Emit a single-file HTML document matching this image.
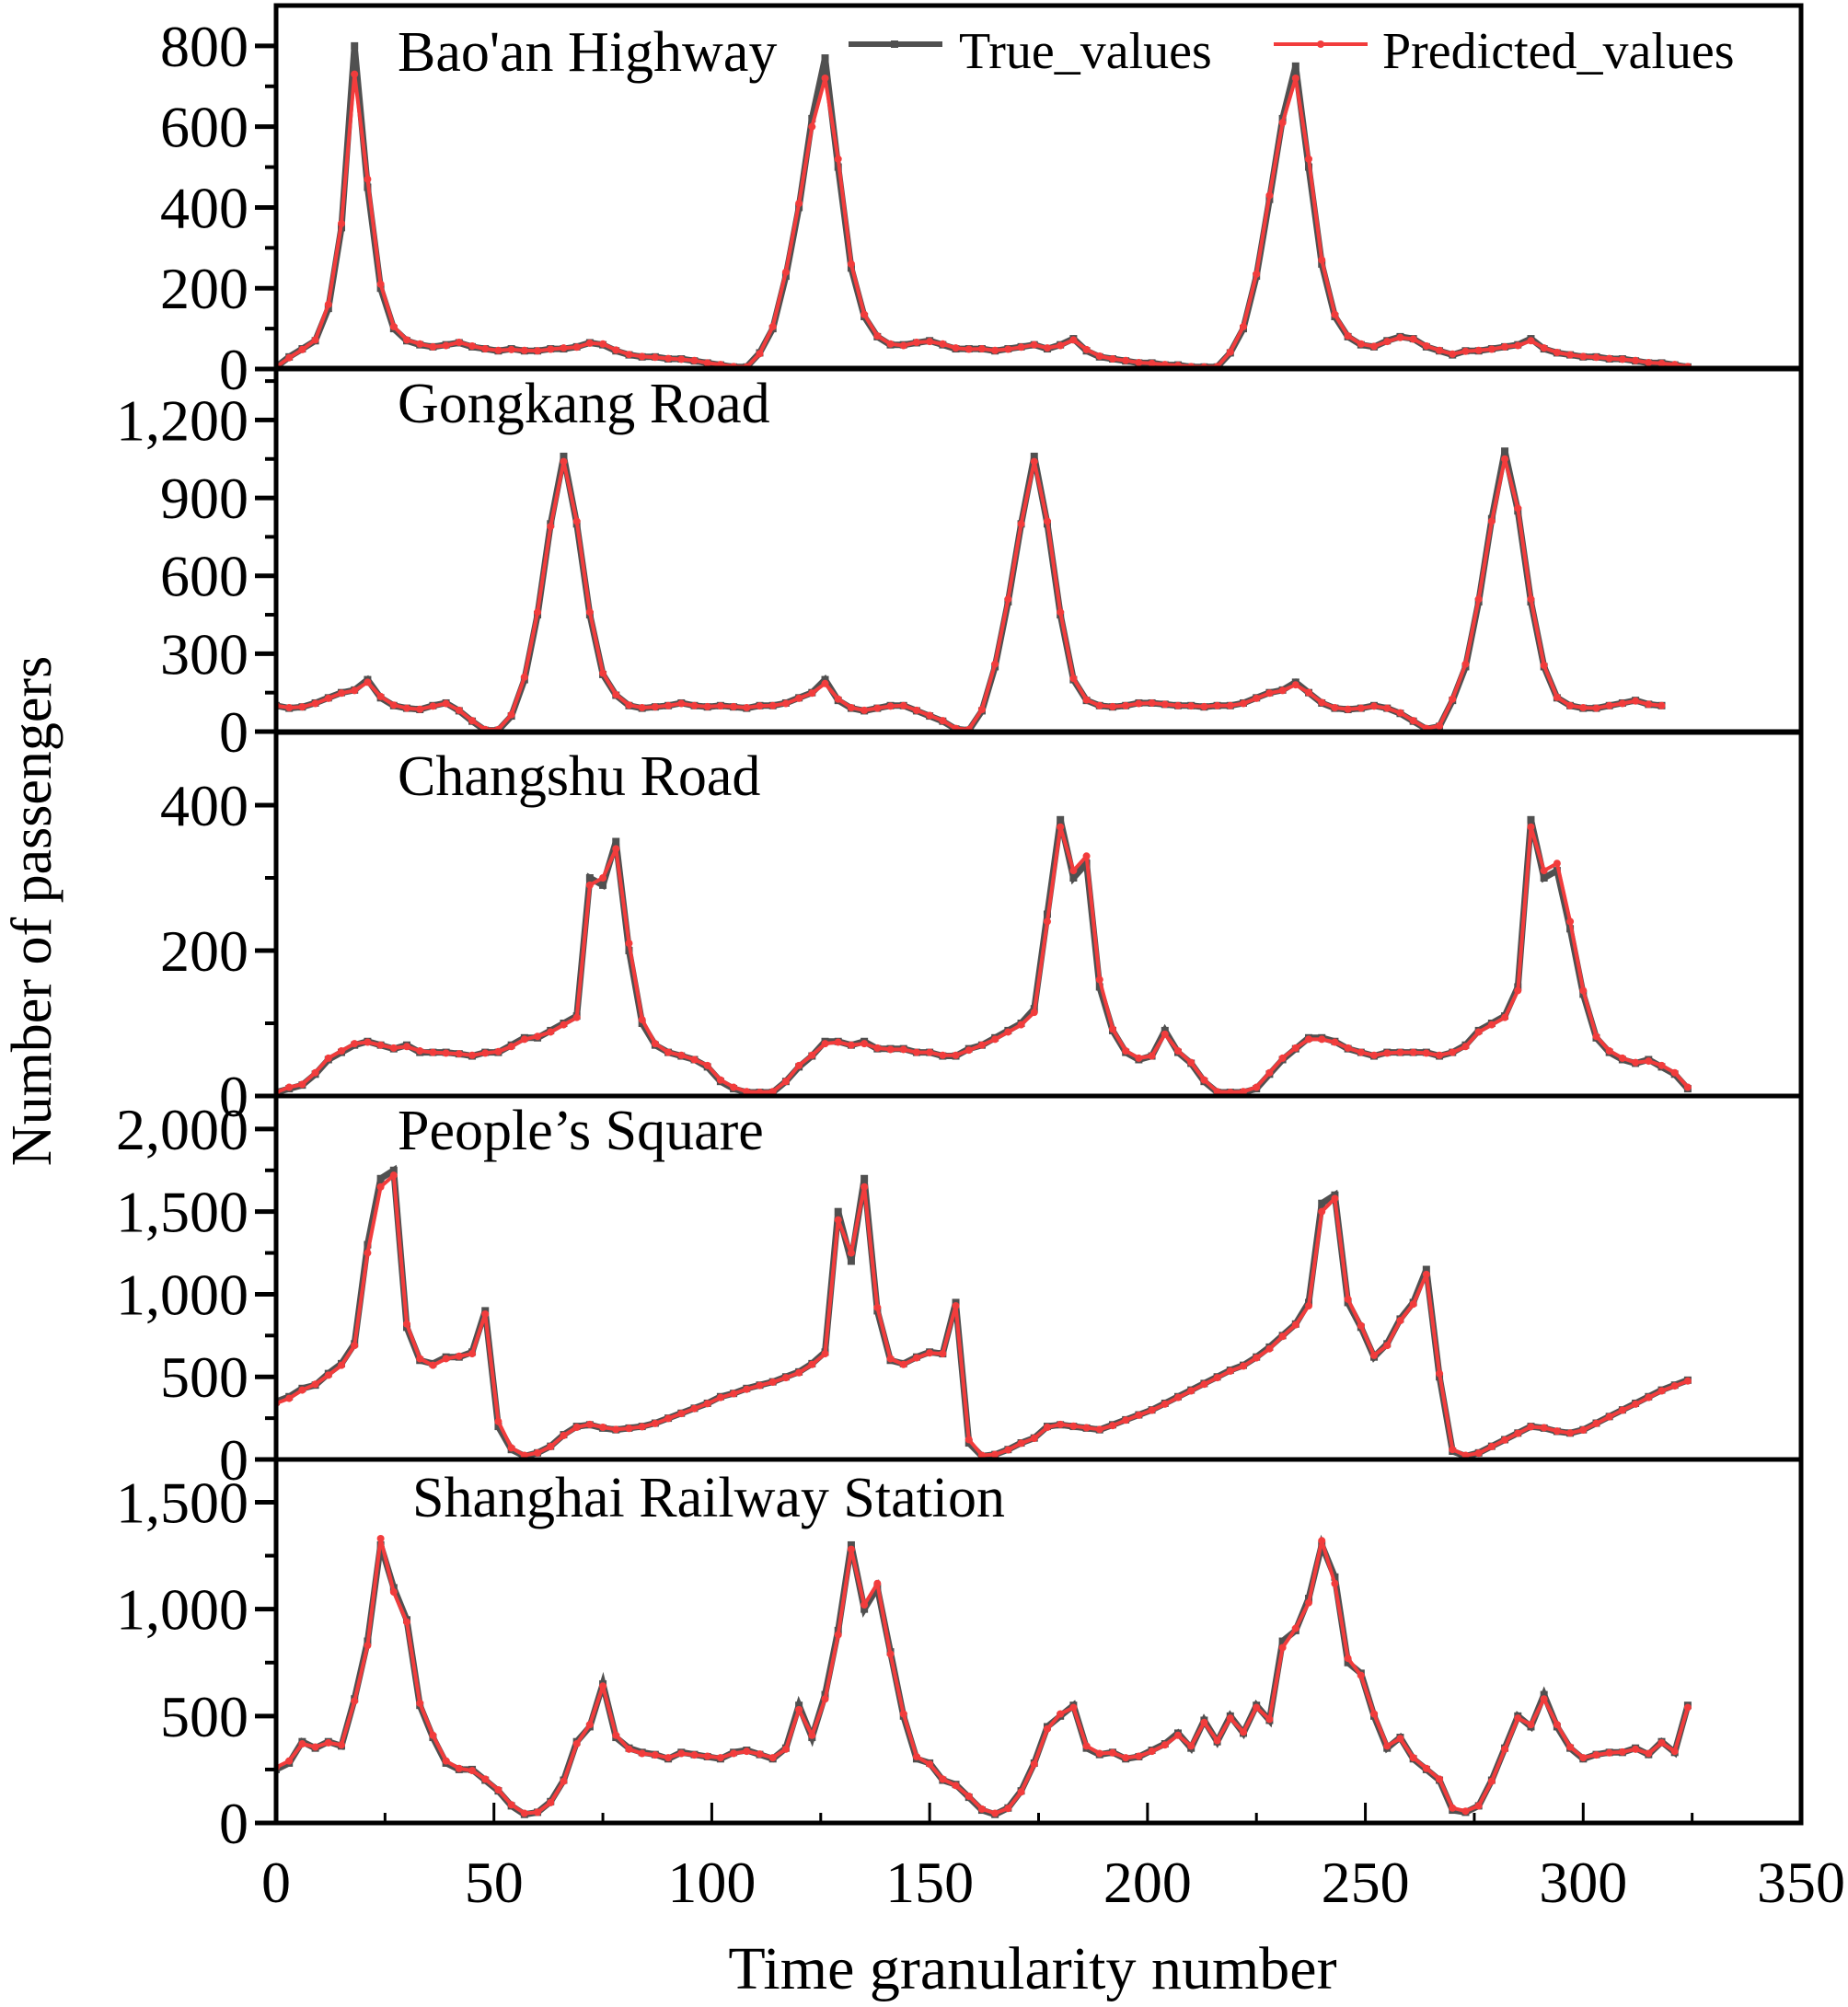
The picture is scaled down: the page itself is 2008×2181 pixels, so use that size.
<!DOCTYPE html>
<html><head><meta charset="utf-8">
<style>
html,body{margin:0;padding:0;background:#fff;}
svg{display:block;font-family:"Liberation Serif",serif;}
</style></head>
<body>
<svg id="chart" width="2008" height="2181" viewBox="0 0 2008 2181" xmlns="http://www.w3.org/2000/svg">
<g id="marks"></g>
<g id="axes"></g>
<text x="1122" y="2161" font-size="66" text-anchor="middle">Time granularity number</text>
<text transform="translate(55,990) rotate(-90)" font-size="62" text-anchor="middle">Number of passengers</text>
<g>
<line x1="922" y1="48" x2="1024" y2="48" stroke="#505050" stroke-width="6"/>
<rect x="968" y="44" width="8" height="8" fill="#505050"/>
<text x="1042" y="74" font-size="56">True_values</text>
<line x1="1384" y1="48" x2="1486" y2="48" stroke="#f23c3c" stroke-width="4"/>
<circle cx="1435" cy="48" r="4" fill="#f23c3c"/>
<text x="1502" y="74" font-size="56">Predicted_values</text>
</g>
</svg>
<script>
const xStep = 3;
const xTicks = [0,50,100,150,200,250,300,350];
const stations = ["Bao'an Highway","Gongkang Road","Changshu Road","People\u2019s Square","Shanghai Railway Station"];
const yMaxs = [900,1400,500,2200,1700];
const yTicks1 = [0,200,400,600,800];
const yTicks2 = [0,300,600,900,1200];
const yTicks3 = [0,200,400];
const yTicks4 = [0,500,1000,1500,2000];
const yTicks5 = [0,500,1000,1500];
const yMinor1 = [100,300,500,700];
const yMinor2 = [150,450,750,1050,1350];
const yMinor3 = [100,300];
const yMinor4 = [250,750,1250,1750];
const yMinor5 = [250,750,1250];

const true1 = [5,30,50,70,150,350,800,450,200,100,70,60,55,60,65,55,50,45,50,45,45,50,50,55,65,60,45,35,30,30,25,25,20,15,10,5,5,40,100,230,400,620,770,500,250,130,80,60,60,65,70,60,50,50,50,45,50,55,60,50,60,75,45,30,25,20,15,15,10,10,5,5,5,40,100,230,420,620,750,500,260,130,80,60,55,70,80,75,55,45,35,45,45,50,55,60,75,50,40,35,30,30,25,25,20,15,15,10,5];
const pred1 = [5,28,48,72,160,360,730,470,210,105,72,62,55,58,66,57,50,46,48,46,45,49,52,54,64,62,47,36,31,29,26,24,21,15,11,6,5,38,105,240,410,600,720,520,260,135,82,62,58,66,68,62,52,49,50,46,49,54,60,52,58,72,48,32,25,21,16,14,11,9,6,5,6,42,105,235,430,610,720,520,270,135,82,62,56,68,78,74,57,46,37,44,46,49,55,58,70,52,41,35,31,29,26,24,21,16,14,11,6];
const true2 = [100,90,95,110,130,150,160,200,130,100,90,85,100,110,80,40,5,5,60,200,450,800,1060,800,450,220,140,100,90,95,100,110,100,95,100,95,90,100,100,110,130,150,200,120,90,80,90,100,100,80,60,40,10,5,80,250,500,800,1060,800,450,200,120,100,95,100,110,110,105,100,100,95,100,100,110,130,150,160,190,150,110,90,85,90,100,90,70,40,10,20,120,250,500,820,1080,850,500,250,130,100,90,90,100,110,120,105,100];
const pred2 = [100,92,95,108,128,148,158,190,135,102,90,86,98,108,82,42,8,8,65,210,460,790,1040,810,460,225,142,102,92,95,100,108,100,96,99,96,92,99,100,108,128,148,185,125,92,82,90,98,100,82,62,42,12,8,85,260,510,800,1040,810,460,205,122,100,96,100,108,110,105,100,99,96,100,100,108,128,148,158,180,150,112,92,86,90,98,90,72,42,12,22,125,260,510,810,1050,860,510,255,132,100,92,90,100,108,118,105,100];
const true3 = [5,10,15,30,50,60,70,75,70,65,70,60,60,60,58,55,60,60,70,80,80,90,100,110,300,290,350,200,100,70,60,55,50,40,20,10,5,5,5,20,40,55,75,75,70,75,65,65,65,60,60,55,55,65,70,80,90,100,120,250,380,300,320,150,90,60,50,55,90,60,45,20,5,5,5,10,30,50,65,80,80,75,65,60,55,60,60,60,60,55,60,70,90,100,110,150,380,300,310,230,140,80,60,50,45,50,40,30,10];
const pred3 = [5,12,16,32,52,62,72,74,70,66,68,62,60,59,58,56,59,61,68,78,82,88,98,108,290,300,340,210,105,72,60,56,50,42,22,12,6,5,6,20,42,56,72,74,70,72,66,64,64,60,60,56,56,63,70,78,88,98,115,240,370,310,330,160,92,62,52,55,85,62,46,22,6,5,6,12,32,52,66,78,78,74,66,60,56,59,60,60,59,56,60,68,88,98,108,145,370,310,320,240,145,82,62,52,46,48,42,32,12];
const true4 = [350,380,430,450,520,580,700,1300,1700,1750,800,600,580,620,620,650,900,200,60,20,40,80,150,200,210,190,180,190,200,220,250,280,310,340,380,400,430,450,470,500,530,580,650,1500,1200,1700,900,600,580,620,650,640,950,100,20,30,60,100,130,200,210,200,190,180,210,240,270,300,340,380,420,460,500,540,570,620,680,750,820,950,1550,1600,950,800,620,700,850,950,1150,500,50,20,40,80,120,160,200,190,170,160,180,220,260,300,340,380,420,450,480];
const pred4 = [340,370,420,455,510,570,690,1250,1650,1720,820,610,570,610,625,640,880,230,70,25,40,78,145,195,212,195,182,188,198,218,248,278,308,338,375,398,425,448,468,495,525,575,640,1450,1250,1650,920,610,575,615,645,640,930,120,25,30,58,98,128,195,212,202,192,182,205,238,268,298,335,375,415,455,495,535,565,615,670,745,815,930,1500,1580,970,810,630,690,840,940,1120,520,60,25,38,78,118,158,198,192,172,160,178,218,258,298,335,375,415,445,475];
const true5 = [250,280,380,350,380,360,580,850,1300,1100,950,550,400,280,250,250,200,150,80,40,50,100,200,380,450,650,400,350,330,320,300,330,320,310,300,330,340,320,300,350,550,400,600,900,1300,1000,1100,800,500,300,280,200,180,120,60,40,70,150,280,450,500,550,350,320,330,300,310,340,370,420,350,480,380,500,420,550,480,850,900,1050,1300,1150,750,700,500,350,400,300,250,200,60,50,80,200,350,500,450,600,450,350,300,320,330,330,350,320,380,330,550];
const pred5 = [260,290,370,355,375,365,570,830,1330,1080,940,560,410,290,255,245,205,155,85,45,50,95,195,370,460,640,410,345,325,318,305,325,318,312,305,325,335,322,305,345,530,410,580,880,1280,1020,1120,790,510,310,275,205,175,125,65,45,68,145,275,440,510,540,360,325,328,305,312,335,365,410,360,470,385,490,425,540,485,820,910,1030,1320,1120,770,690,510,360,395,305,255,205,70,55,80,195,345,490,460,580,460,355,305,318,328,332,345,325,375,335,540];

const trueSets = [true1,true2,true3,true4,true5];
const predSets = [pred1,pred2,pred3,pred4,pred5];
const yTickSets = [yTicks1,yTicks2,yTicks3,yTicks4,yTicks5];
const yMinorSets = [yMinor1,yMinor2,yMinor3,yMinor4,yMinor5];

const NS = "http://www.w3.org/2000/svg";
const X0 = 300, X1 = 1957, XMAX = 350;
const panelTops = [6,400,796,1191,1586];
const panelH = 395;
const titleBase = [[432,77],[432,459],[432,864],[432,1249],[448,1648]];
function xs(v){ return X0 + v/XMAX*(X1-X0); }
function ys(p, v){ const bottom = panelTops[p]+panelH; return bottom - v/yMaxs[p]*panelH; }
function mk(tag, attrs, parent){ const e=document.createElementNS(NS,tag); for(const k in attrs) e.setAttribute(k,attrs[k]); parent.appendChild(e); return e; }
function fmt(n){ return n.toLocaleString('en-US'); }

const marks = document.getElementById('marks');
const axes = document.getElementById('axes');

for(let p=0;p<5;p++){
  const g = mk('g',{},marks);
  
  
  const clipId='clip'+p;
  const cp = mk('clipPath',{id:clipId},g);
  mk('rect',{x:X0,y:panelTops[p],width:X1-X0,height:panelH},cp);
  const tPts = trueSets[p].map((v,i)=>xs(i*xStep).toFixed(1)+','+ys(p,v).toFixed(1)).join(' ');
  const tl = mk('polyline',{points:tPts,fill:'none',stroke:'#505050','stroke-width':7,'stroke-linejoin':'miter','clip-path':'url(#'+clipId+')'},g);
  
  
  trueSets[p].forEach((v,i)=>{
    const r = mk('rect',{x:xs(i*xStep)-4,y:ys(p,v)-4,width:8,height:8,fill:'#505050','clip-path':'url(#'+clipId+')'},g);
    
    
  });
  const pPts = predSets[p].map((v,i)=>xs(i*xStep).toFixed(1)+','+ys(p,v).toFixed(1)).join(' ');
  const pl = mk('polyline',{points:pPts,fill:'none',stroke:'#f23c3c','stroke-width':4,'stroke-linejoin':'round','clip-path':'url(#'+clipId+')'},g);
  
  
  predSets[p].forEach((v,i)=>{
    const c = mk('circle',{cx:xs(i*xStep),cy:ys(p,v),r:4,fill:'#f23c3c','clip-path':'url(#'+clipId+')'},g);
    
    
  });
  const t = mk('text',{x:titleBase[p][0],y:titleBase[p][1],'font-size':62},axes);
  t.textContent = stations[p];
  
  
  // frame
  const fr = mk('rect',{x:X0,y:panelTops[p],width:X1-X0,height:panelH,fill:'none',stroke:'#000','stroke-width':5},axes);
  
  
  yTickSets[p].forEach(v=>{
    const y=ys(p,v);
    const l=mk('line',{x1:X0-23,y1:y,x2:X0,y2:y,stroke:'#000','stroke-width':5},axes);
    
    
    const tx=mk('text',{x:X0-30,y:y+22,'font-size':64,'text-anchor':'end'},axes);
    tx.textContent=fmt(v);
    
    
  });
  yMinorSets[p].forEach(v=>{
    const y=ys(p,v);
    const l=mk('line',{x1:X0-12,y1:y,x2:X0,y2:y,stroke:'#000','stroke-width':4},axes);
    
    
  });
}
const bottom = panelTops[4]+panelH;
xTicks.forEach(v=>{
  const x=xs(v);
  const l=mk('line',{x1:x,y1:bottom,x2:x,y2:bottom-22,stroke:'#000','stroke-width':3},axes);
  
  
  const tx=mk('text',{x:x,y:2067,'font-size':64,'text-anchor':'middle'},axes);
  tx.textContent=v;
  
  
  if(v<XMAX){
    const m=mk('line',{x1:xs(v+25),y1:bottom,x2:xs(v+25),y2:bottom-11,stroke:'#000','stroke-width':3},axes);
    
    
  }
});
</script>
</body></html>
